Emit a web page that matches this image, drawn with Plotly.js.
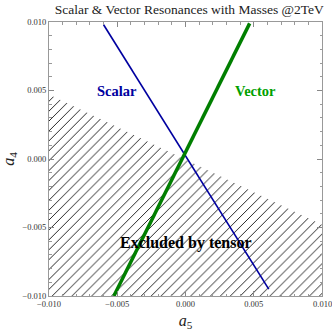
<!DOCTYPE html>
<html>
<head>
<meta charset="utf-8">
<script src="https://cdn.plot.ly/plotly-3.0.1.min.js"></script>
<style>
  html, body { margin: 0; padding: 0; background: #fff; }
  #chart { width: 332px; height: 331px; }
</style>
</head>
<body>
<div id="chart"></div>
<script>
// Scalar resonance line (end points)
let scalarX = [-0.0060, 0.0061]
let scalarY = [0.0098, -0.0095]

// Vector resonance line
let vectorX = [-0.00525, 0.0047]
let vectorY = [-0.0100, 0.0099]

// Region excluded by tensor (below the boundary line)
let tensorX = [-0.010, 0.010, 0.010, -0.010]
let tensorY = [0.0047, -0.0048, -0.010, -0.010]

// Major tick positions and labels (both axes)
let tickVals = [-0.010, -0.005, 0.000, 0.005, 0.010]
let tickText = ['\u22120.010', '\u22120.005', '0.000', '0.005', '0.010']
// plotly drops the last x label at the div edge, so it is drawn as an annotation
let xTickText = tickText.slice(0, 4).concat([''])

let serif = '"Liberation Serif", "DejaVu Serif", serif'

let traces = [
    {
        x: tensorX,
        y: tensorY,
        type: 'scatter',
        mode: 'lines',
        fill: 'toself',
        fillcolor: 'rgba(0,0,0,0)',
        fillpattern: { shape: '/', size: 7, solidity: 0.14, fgcolor: '#222', bgcolor: 'rgba(0,0,0,0)' },
        line: { width: 0 },
        hoverinfo: 'skip'
    },
    {
        x: scalarX,
        y: scalarY,
        type: 'scatter',
        mode: 'lines',
        line: { color: '#0000a0', width: 1.6 }
    },
    {
        x: vectorX,
        y: vectorY,
        type: 'scatter',
        mode: 'lines',
        line: { color: '#007f00', width: 3.5 }
    }
];

let tickFont = { family: serif, size: 8.5, color: '#333' }

let axisCommon = {
    range: [-0.010, 0.010],
    tickmode: 'array',
    tickvals: tickVals,
    ticktext: tickText,
    ticks: 'inside',
    ticklen: 5,
    tickcolor: '#888',
    showline: true,
    linecolor: '#999',
    linewidth: 1,
    mirror: 'allticks',
    showgrid: false,
    zeroline: false,
    tickfont: tickFont,
    minor: { tickmode: 'linear', tick0: 0, dtick: 0.001, ticks: 'inside', ticklen: 2.5, tickcolor: '#999', showgrid: false }
};

let layout = {
    width: 332,
    height: 331,
    margin: { l: 49, r: 10, t: 22, b: 35 },
    paper_bgcolor: '#fff',
    plot_bgcolor: '#fff',
    showlegend: false,
    title: {
        text: 'Scalar &amp; Vector Resonances with Masses @2TeV',
        font: { family: serif, size: 13.5, color: '#222' },
        x: 0.57, xanchor: 'center',
        y: 0.985, yanchor: 'top'
    },
    xaxis: {
        ...axisCommon,
        ticktext: xTickText,
        title: { text: '<i>a</i><sub>5</sub>', font: { family: serif, size: 16, color: '#222' }, standoff: 8 }
    },
    yaxis: {
        ...axisCommon,
        title: { text: '<i>a</i><sub>4</sub>', font: { family: serif, size: 16, color: '#222' }, standoff: 6 }
    },
    annotations: [
        { x: -0.0050, y: 0.0050, text: '<b>Scalar</b>', showarrow: false,
          font: { family: serif, size: 14.5, color: '#0000a0' } },
        { x: 0.0051, y: 0.0050, text: '<b>Vector</b>', showarrow: false,
          font: { family: serif, size: 14.5, color: '#00a000' } },
        { x: 0.0000, y: -0.0061, text: '<b>Excluded by tensor</b>', showarrow: false,
          font: { family: serif, size: 16, color: '#000' } },
        { x: tickVals[4], y: 0, yref: 'paper', yanchor: 'top', yshift: -2, borderpad: 0,
          text: tickText[4], showarrow: false, font: tickFont }
    ]
};

Plotly.newPlot('chart', traces, layout, { displayModeBar: false, staticPlot: true });
</script>
</body>
</html>
